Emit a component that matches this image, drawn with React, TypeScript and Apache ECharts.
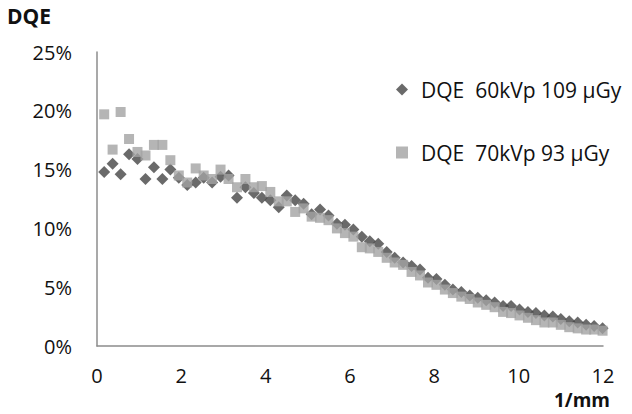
import React, { useEffect, useRef } from "react";
import * as echarts from "echarts";

const freq = [
  0.17, 0.37, 0.56, 0.76, 0.96, 1.15, 1.35, 1.55, 1.74, 1.94,
  2.14, 2.34, 2.53, 2.73, 2.93, 3.12, 3.32, 3.52, 3.72, 3.91,
  4.11, 4.31, 4.5, 4.7, 4.9, 5.09, 5.29, 5.49, 5.69, 5.88,
  6.08, 6.28, 6.47, 6.67, 6.87, 7.06, 7.26, 7.46, 7.66, 7.85,
  8.05, 8.25, 8.44, 8.64, 8.84, 9.03, 9.23, 9.43, 9.63, 9.82,
  10.02, 10.22, 10.41, 10.61, 10.81, 11.0, 11.2, 11.4, 11.6, 11.79,
  11.99,
];

const dqe60 = [
  14.8, 15.5, 14.6, 16.3, 15.9, 14.2, 15.2, 14.2, 15.0, 14.3,
  13.7, 13.9, 14.3, 13.9, 14.4, 14.5, 12.6, 13.5, 13.0, 12.6,
  12.4, 11.8, 12.8, 12.4, 12.1, 11.2, 11.6, 11.1, 10.4, 10.3,
  9.9, 9.3, 8.9, 8.7, 8.0, 7.5, 7.1, 6.8, 6.5, 5.8,
  5.7, 5.2, 4.8, 4.6, 4.3, 4.1, 3.9, 3.7, 3.4, 3.4,
  3.1, 2.9, 2.8, 2.6, 2.5, 2.3, 2.1, 2.0, 1.8, 1.7,
  1.5,
];

const dqe70 = [
  19.7, 16.7, 19.9, 17.6, 16.5, 16.2, 17.1, 17.1, 15.8, 14.5,
  13.9, 15.1, 14.5, 14.2, 15.0, 14.2, 13.5, 14.2, 13.5, 13.6,
  13.1, 12.3, 12.3, 11.4, 11.7, 11.0, 10.9, 10.7, 10.0, 9.6,
  9.3, 8.4, 8.3, 8.0, 7.5, 7.1, 6.9, 6.3, 6.0, 5.4,
  5.2, 4.8, 4.5, 4.2, 4.0, 3.7, 3.5, 3.3, 2.9, 2.8,
  2.6, 2.4, 2.2, 2.0, 2.0, 1.8, 1.6, 1.5, 1.4, 1.4,
  1.3,
];

const seriesNames = ["DQE  60kVp 109 µGy", "DQE  70kVp 93 µGy"];
const yTicks = [0, 5, 10, 15, 20, 25];
const xTicks = [0, 2, 4, 6, 8, 10, 12];

const FONT = "'Open Sans', 'Noto Sans', sans-serif";

export default function App() {
  const ref = useRef<HTMLDivElement>(null);
  useEffect(() => {
    if (!ref.current) return;
    const chart = echarts.init(ref.current, null, { renderer: "svg" });
    const pairs = (ys: number[]) => ys.map((y, i) => [freq[i], y / 100]);
    chart.setOption({
      animation: false,
      backgroundColor: "#ffffff",
      textStyle: { fontFamily: FONT },
      grid: { left: 97, right: 29, top: 52, bottom: 68, containLabel: false },
      legend: {
        orient: "vertical",
        left: 391,
        top: 74,
        itemGap: 42,
        itemWidth: 12,
        itemHeight: 12,
        data: [
          { name: seriesNames[0], icon: "diamond" },
          { name: seriesNames[1], icon: "rect" },
        ],
        textStyle: {
          fontFamily: FONT,
          fontSize: 21,
          color: "#111",
          padding: [0, 0, 0, 8],
        },
      },
      graphic: [
        {
          type: "text",
          left: 7,
          top: 5,
          style: { text: "DQE", font: `bold 21px ${FONT}`, fill: "#111" },
        },
        {
          type: "text",
          left: 554,
          top: 390,
          style: { text: "1/mm", font: `bold 19px ${FONT}`, fill: "#111" },
        },
      ],
      xAxis: {
        type: "value",
        min: xTicks[0],
        max: xTicks[xTicks.length - 1],
        interval: 2,
        axisLine: { show: true, lineStyle: { color: "#8c8c8c", width: 1.5 } },
        axisTick: { show: false },
        splitLine: { show: false },
        axisLabel: { fontSize: 20, color: "#111", margin: 19, fontFamily: FONT },
      },
      yAxis: {
        type: "value",
        min: yTicks[0] / 100,
        max: yTicks[yTicks.length - 1] / 100,
        interval: 0.05,
        axisLine: { show: true, lineStyle: { color: "#8c8c8c", width: 1.5 } },
        axisTick: { show: false },
        splitLine: { show: false },
        axisLabel: {
          fontSize: 20,
          color: "#111",
          margin: 25,
          fontFamily: FONT,
          formatter: (v: number) => `${Math.round(v * 100)}%`,
        },
      },
      series: [
        {
          name: seriesNames[0],
          type: "scatter",
          symbol: "diamond",
          symbolSize: 12,
          itemStyle: { color: "#454545" },
          data: pairs(dqe60),
        },
        {
          name: seriesNames[1],
          type: "scatter",
          symbol: "rect",
          symbolSize: 10,
          itemStyle: { color: "#a3a3a3" },
          data: pairs(dqe70),
        },
      ],
    });
    return () => chart.dispose();
  }, []);
  return (
    <div
      ref={ref}
      style={{ position: "fixed", left: 0, top: 0, width: 632, height: 414 }}
    />
  );
}
